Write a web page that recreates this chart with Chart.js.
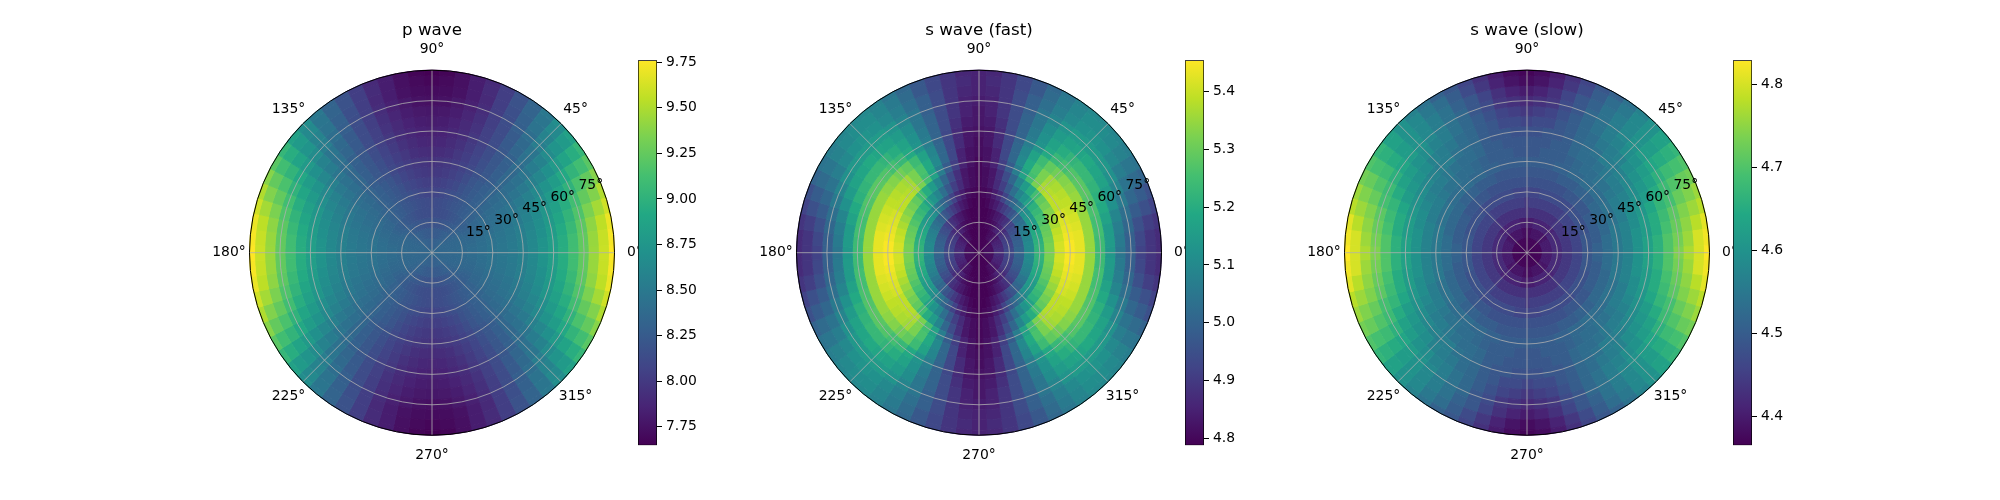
<!DOCTYPE html>
<html>
<head>
<meta charset="utf-8">
<script src="https://cdn.jsdelivr.net/npm/chart.js@4.4.1/dist/chart.umd.min.js"></script>
<style>
  body { margin: 0; background: #fff; }
  #fig { position: relative; width: 2000px; height: 500px; overflow: hidden; }
  #fig canvas { position: absolute; top: 0; }
</style>
</head>
<body>
<div id="fig"></div>
<script>
// values, one quadrant (the maps are symmetric about both axes)
// rows: incidence angle (radius) 0..90, columns: azimuth 0..90
const incidence = [0, 5, 10, 15, 20, 25, 30, 35, 40, 45, 50, 55, 60, 65, 70, 75, 80, 85, 90];
const azimuth = [0, 5, 10, 15, 20, 25, 30, 35, 40, 45, 50, 55, 60, 65, 70, 75, 80, 85, 90];

const pWave = [
    [8.35, 8.35, 8.35, 8.35, 8.35, 8.35, 8.35, 8.35, 8.35, 8.35, 8.35, 8.35, 8.35, 8.35, 8.35, 8.35, 8.35, 8.35, 8.35],
    [8.35, 8.35, 8.35, 8.35, 8.35, 8.35, 8.35, 8.34, 8.34, 8.33, 8.32, 8.32, 8.31, 8.31, 8.30, 8.30, 8.29, 8.29, 8.29],
    [8.36, 8.36, 8.36, 8.35, 8.35, 8.35, 8.34, 8.33, 8.32, 8.31, 8.30, 8.29, 8.28, 8.27, 8.26, 8.25, 8.25, 8.24, 8.24],
    [8.37, 8.37, 8.37, 8.36, 8.36, 8.35, 8.34, 8.32, 8.30, 8.28, 8.27, 8.25, 8.23, 8.22, 8.20, 8.19, 8.19, 8.18, 8.18],
    [8.39, 8.39, 8.38, 8.37, 8.36, 8.35, 8.32, 8.30, 8.28, 8.26, 8.24, 8.22, 8.20, 8.18, 8.16, 8.15, 8.14, 8.14, 8.13],
    [8.42, 8.42, 8.41, 8.40, 8.38, 8.37, 8.35, 8.34, 8.31, 8.29, 8.27, 8.25, 8.22, 8.20, 8.18, 8.16, 8.14, 8.13, 8.12],
    [8.45, 8.45, 8.44, 8.43, 8.41, 8.39, 8.38, 8.36, 8.32, 8.30, 8.28, 8.25, 8.22, 8.19, 8.16, 8.13, 8.10, 8.08, 8.07],
    [8.48, 8.48, 8.47, 8.46, 8.44, 8.42, 8.40, 8.38, 8.35, 8.31, 8.28, 8.25, 8.21, 8.17, 8.12, 8.09, 8.06, 8.04, 8.03],
    [8.51, 8.51, 8.50, 8.49, 8.47, 8.45, 8.43, 8.40, 8.37, 8.32, 8.28, 8.24, 8.20, 8.14, 8.09, 8.05, 8.02, 8.00, 7.99],
    [8.56, 8.56, 8.55, 8.54, 8.51, 8.49, 8.46, 8.42, 8.38, 8.32, 8.27, 8.22, 8.17, 8.11, 8.06, 8.02, 7.99, 7.97, 7.95],
    [8.64, 8.63, 8.62, 8.60, 8.58, 8.55, 8.51, 8.46, 8.41, 8.35, 8.28, 8.22, 8.16, 8.09, 8.03, 7.99, 7.94, 7.92, 7.91],
    [8.73, 8.72, 8.70, 8.68, 8.65, 8.61, 8.57, 8.50, 8.43, 8.36, 8.28, 8.22, 8.14, 8.07, 8.01, 7.95, 7.91, 7.88, 7.87],
    [8.83, 8.82, 8.81, 8.78, 8.75, 8.69, 8.64, 8.56, 8.47, 8.39, 8.30, 8.22, 8.13, 8.05, 7.99, 7.92, 7.88, 7.85, 7.84],
    [8.96, 8.95, 8.93, 8.89, 8.84, 8.79, 8.72, 8.62, 8.53, 8.43, 8.34, 8.24, 8.13, 8.05, 7.96, 7.90, 7.85, 7.82, 7.81],
    [9.11, 9.10, 9.06, 9.02, 8.96, 8.89, 8.81, 8.70, 8.58, 8.47, 8.37, 8.25, 8.13, 8.04, 7.94, 7.87, 7.82, 7.79, 7.78],
    [9.25, 9.24, 9.22, 9.17, 9.11, 9.01, 8.92, 8.79, 8.66, 8.54, 8.41, 8.28, 8.14, 8.03, 7.92, 7.84, 7.79, 7.75, 7.74],
    [9.44, 9.43, 9.40, 9.34, 9.25, 9.15, 9.02, 8.87, 8.73, 8.59, 8.45, 8.30, 8.16, 8.03, 7.90, 7.82, 7.75, 7.72, 7.71],
    [9.59, 9.58, 9.55, 9.47, 9.36, 9.25, 9.11, 8.96, 8.79, 8.64, 8.47, 8.32, 8.18, 8.03, 7.91, 7.82, 7.74, 7.70, 7.68],
    [9.76, 9.74, 9.70, 9.61, 9.51, 9.38, 9.21, 9.04, 8.85, 8.68, 8.49, 8.32, 8.18, 8.03, 7.90, 7.82, 7.73, 7.67, 7.65]
];

const sFast = [
    [4.79, 4.79, 4.79, 4.79, 4.79, 4.79, 4.79, 4.79, 4.79, 4.79, 4.79, 4.79, 4.79, 4.79, 4.79, 4.79, 4.79, 4.79, 4.79],
    [4.81, 4.81, 4.81, 4.81, 4.81, 4.81, 4.81, 4.80, 4.80, 4.80, 4.80, 4.79, 4.79, 4.79, 4.79, 4.79, 4.79, 4.79, 4.79],
    [4.87, 4.87, 4.87, 4.86, 4.86, 4.85, 4.85, 4.84, 4.83, 4.83, 4.82, 4.81, 4.81, 4.80, 4.79, 4.79, 4.79, 4.79, 4.79],
    [4.93, 4.93, 4.92, 4.92, 4.91, 4.91, 4.90, 4.89, 4.87, 4.86, 4.85, 4.84, 4.82, 4.81, 4.80, 4.80, 4.79, 4.79, 4.79],
    [5.00, 5.00, 4.99, 4.99, 4.98, 4.97, 4.95, 4.94, 4.92, 4.90, 4.88, 4.86, 4.84, 4.83, 4.81, 4.80, 4.79, 4.79, 4.79],
    [5.11, 5.10, 5.10, 5.09, 5.08, 5.07, 5.05, 5.03, 5.01, 4.99, 4.96, 4.93, 4.90, 4.87, 4.84, 4.82, 4.80, 4.79, 4.79],
    [5.22, 5.22, 5.21, 5.20, 5.19, 5.17, 5.15, 5.14, 5.12, 5.09, 5.05, 5.01, 4.97, 4.92, 4.87, 4.84, 4.81, 4.80, 4.79],
    [5.32, 5.32, 5.31, 5.30, 5.29, 5.27, 5.25, 5.23, 5.21, 5.17, 5.13, 5.09, 5.03, 4.97, 4.91, 4.87, 4.83, 4.81, 4.80],
    [5.41, 5.41, 5.40, 5.39, 5.37, 5.35, 5.33, 5.31, 5.29, 5.25, 5.20, 5.15, 5.09, 5.01, 4.94, 4.88, 4.83, 4.81, 4.80],
    [5.45, 5.45, 5.44, 5.43, 5.42, 5.41, 5.39, 5.39, 5.38, 5.37, 5.32, 5.25, 5.17, 5.07, 4.98, 4.91, 4.85, 4.82, 4.80],
    [5.43, 5.43, 5.43, 5.42, 5.41, 5.40, 5.39, 5.38, 5.37, 5.36, 5.32, 5.26, 5.19, 5.10, 5.01, 4.93, 4.85, 4.82, 4.81],
    [5.35, 5.35, 5.35, 5.35, 5.35, 5.35, 5.35, 5.34, 5.33, 5.31, 5.29, 5.24, 5.17, 5.09, 5.01, 4.93, 4.87, 4.83, 4.81],
    [5.24, 5.24, 5.25, 5.25, 5.26, 5.27, 5.28, 5.28, 5.27, 5.25, 5.23, 5.19, 5.13, 5.07, 5.00, 4.93, 4.87, 4.83, 4.82],
    [5.14, 5.15, 5.15, 5.17, 5.19, 5.21, 5.22, 5.23, 5.23, 5.22, 5.20, 5.17, 5.12, 5.06, 5.00, 4.94, 4.88, 4.84, 4.83],
    [5.05, 5.06, 5.07, 5.09, 5.12, 5.15, 5.17, 5.18, 5.19, 5.18, 5.17, 5.15, 5.11, 5.05, 5.00, 4.94, 4.89, 4.85, 4.83],
    [4.99, 4.99, 5.01, 5.03, 5.06, 5.09, 5.12, 5.14, 5.15, 5.15, 5.15, 5.13, 5.09, 5.05, 4.99, 4.94, 4.89, 4.85, 4.84],
    [4.92, 4.93, 4.95, 4.98, 5.01, 5.04, 5.07, 5.10, 5.12, 5.13, 5.12, 5.10, 5.07, 5.03, 4.99, 4.94, 4.89, 4.86, 4.85],
    [4.89, 4.89, 4.91, 4.95, 4.98, 5.02, 5.05, 5.08, 5.10, 5.11, 5.11, 5.09, 5.06, 5.02, 4.97, 4.93, 4.89, 4.87, 4.85],
    [4.87, 4.87, 4.89, 4.92, 4.95, 5.00, 5.04, 5.07, 5.09, 5.10, 5.10, 5.08, 5.05, 5.01, 4.97, 4.93, 4.89, 4.86, 4.85]
];

const sSlow = [
    [4.37, 4.37, 4.37, 4.37, 4.37, 4.37, 4.37, 4.37, 4.37, 4.37, 4.37, 4.37, 4.37, 4.37, 4.37, 4.37, 4.37, 4.37, 4.37],
    [4.37, 4.37, 4.37, 4.37, 4.37, 4.37, 4.37, 4.37, 4.37, 4.37, 4.37, 4.37, 4.37, 4.37, 4.37, 4.37, 4.37, 4.37, 4.37],
    [4.40, 4.40, 4.40, 4.40, 4.40, 4.40, 4.40, 4.39, 4.39, 4.39, 4.39, 4.39, 4.39, 4.39, 4.39, 4.39, 4.38, 4.38, 4.38],
    [4.42, 4.42, 4.42, 4.42, 4.42, 4.42, 4.42, 4.42, 4.41, 4.41, 4.41, 4.41, 4.41, 4.41, 4.41, 4.41, 4.40, 4.40, 4.40],
    [4.44, 4.44, 4.44, 4.44, 4.44, 4.44, 4.44, 4.44, 4.44, 4.44, 4.43, 4.43, 4.43, 4.43, 4.43, 4.43, 4.43, 4.43, 4.43],
    [4.46, 4.46, 4.46, 4.46, 4.46, 4.46, 4.46, 4.46, 4.46, 4.46, 4.45, 4.45, 4.45, 4.45, 4.45, 4.45, 4.45, 4.45, 4.44],
    [4.49, 4.49, 4.49, 4.49, 4.48, 4.48, 4.48, 4.48, 4.48, 4.47, 4.47, 4.47, 4.47, 4.47, 4.47, 4.47, 4.46, 4.46, 4.46],
    [4.51, 4.51, 4.50, 4.50, 4.50, 4.50, 4.50, 4.49, 4.49, 4.49, 4.49, 4.49, 4.48, 4.48, 4.48, 4.48, 4.48, 4.48, 4.48],
    [4.53, 4.53, 4.53, 4.52, 4.52, 4.52, 4.52, 4.52, 4.51, 4.51, 4.51, 4.50, 4.50, 4.50, 4.49, 4.49, 4.49, 4.49, 4.49],
    [4.55, 4.55, 4.55, 4.55, 4.54, 4.54, 4.54, 4.53, 4.53, 4.53, 4.53, 4.52, 4.52, 4.51, 4.51, 4.50, 4.50, 4.50, 4.50],
    [4.57, 4.57, 4.57, 4.57, 4.56, 4.56, 4.56, 4.55, 4.54, 4.54, 4.53, 4.53, 4.52, 4.51, 4.50, 4.50, 4.50, 4.49, 4.49],
    [4.60, 4.60, 4.60, 4.59, 4.59, 4.58, 4.57, 4.56, 4.56, 4.55, 4.54, 4.53, 4.53, 4.52, 4.50, 4.50, 4.49, 4.49, 4.49],
    [4.63, 4.63, 4.62, 4.62, 4.61, 4.60, 4.59, 4.58, 4.57, 4.56, 4.56, 4.54, 4.53, 4.52, 4.50, 4.49, 4.49, 4.48, 4.48],
    [4.66, 4.66, 4.65, 4.65, 4.64, 4.62, 4.61, 4.60, 4.59, 4.57, 4.56, 4.55, 4.53, 4.52, 4.50, 4.49, 4.47, 4.47, 4.46],
    [4.70, 4.70, 4.69, 4.68, 4.67, 4.65, 4.63, 4.62, 4.60, 4.59, 4.57, 4.56, 4.54, 4.52, 4.50, 4.48, 4.46, 4.45, 4.44],
    [4.74, 4.73, 4.72, 4.71, 4.69, 4.68, 4.66, 4.64, 4.62, 4.60, 4.58, 4.56, 4.54, 4.52, 4.49, 4.47, 4.44, 4.43, 4.42],
    [4.77, 4.76, 4.75, 4.74, 4.72, 4.70, 4.68, 4.65, 4.62, 4.60, 4.58, 4.56, 4.54, 4.51, 4.49, 4.46, 4.43, 4.41, 4.40],
    [4.80, 4.80, 4.78, 4.76, 4.74, 4.72, 4.69, 4.66, 4.63, 4.60, 4.58, 4.55, 4.53, 4.50, 4.47, 4.44, 4.41, 4.39, 4.38],
    [4.83, 4.82, 4.81, 4.78, 4.76, 4.73, 4.70, 4.67, 4.63, 4.60, 4.57, 4.54, 4.51, 4.49, 4.46, 4.43, 4.40, 4.38, 4.37]
];

const titles = ['p wave', 's wave (fast)', 's wave (slow)'];
const grids = [pWave, sFast, sSlow];
const colorRanges = [[7.648, 9.761], [4.788, 5.454], [4.365, 4.829]];
const pTicks = [7.75, 8.00, 8.25, 8.50, 8.75, 9.00, 9.25, 9.50, 9.75];
const sFastTicks = [4.8, 4.9, 5.0, 5.1, 5.2, 5.3, 5.4];
const sSlowTicks = [4.4, 4.5, 4.6, 4.7, 4.8];
const tickSets = [pTicks, sFastTicks, sSlowTicks];
const tickDecimals = [2, 1, 1];
const radialTicks = [15, 30, 45, 60, 75];
const angleTicks = [0, 45, 90, 135, 180, 225, 270, 315];

// layout (px)
const centersX = [432.3, 979.3, 1526.7];
const centerY = 252.7;
const radius = 182.5;
const cbarOffset = 206;
const cbarWidth = 19;
const cbarTop = 60.3, cbarBottom = 445.3;
const step = 5; // degrees between samples

const viridisStops = ['#440154', '#482475', '#414487', '#355f8d', '#2a788e', '#21918c',
                      '#22a884', '#44bf70', '#7ad151', '#bddf26', '#fde725'];

function hexToRgb(h) {
    return [parseInt(h.slice(1, 3), 16), parseInt(h.slice(3, 5), 16), parseInt(h.slice(5, 7), 16)];
}
const viridisRgb = viridisStops.map(hexToRgb);

function viridis(t) {
    t = Math.min(1, Math.max(0, t));
    const pos = t * (viridisRgb.length - 1);
    const i = Math.min(Math.floor(pos), viridisRgb.length - 2);
    const f = pos - i;
    const a = viridisRgb[i], b = viridisRgb[i + 1];
    const c = a.map((v, k) => Math.round(v + (b[k] - v) * f));
    return `rgb(${c[0]},${c[1]},${c[2]})`;
}

// map any azimuth onto the stored quadrant
function foldAzimuth(theta) {
    let t = ((theta % 360) + 360) % 360;
    if (t > 180) t = 360 - t;
    if (t > 90) t = 180 - t;
    return azimuth.indexOf(t);
}

Chart.defaults.font.family = '"DejaVu Sans", sans-serif';
Chart.defaults.color = '#000';

const fig = document.getElementById('fig');

function makeCanvas(left, width) {
    const c = document.createElement('canvas');
    c.width = width;
    c.height = 500;
    c.style.left = left + 'px';
    c.style.width = width + 'px';
    c.style.height = '500px';
    fig.appendChild(c);
    return c;
}

const polarGrid = {
    id: 'polarGrid',
    afterDatasetsDraw(chart, args, opts) {
        const arc = chart.getDatasetMeta(0).data[0];
        const cx = arc.x, cy = arc.y, R = arc.outerRadius;
        const ctx = chart.ctx;
        ctx.save();
        ctx.strokeStyle = '#b0b0b0';
        ctx.lineWidth = 0.8;
        radialTicks.forEach(r => {
            ctx.beginPath();
            ctx.arc(cx, cy, R * r / 90, 0, 2 * Math.PI);
            ctx.stroke();
        });
        angleTicks.forEach(t => {
            const a = -t * Math.PI / 180;
            ctx.beginPath();
            ctx.moveTo(cx, cy);
            ctx.lineTo(cx + R * Math.cos(a), cy + R * Math.sin(a));
            ctx.stroke();
        });
        ctx.strokeStyle = '#000';
        ctx.lineWidth = 1;
        ctx.beginPath();
        ctx.arc(cx, cy, R, 0, 2 * Math.PI);
        ctx.stroke();

        ctx.fillStyle = '#000';
        ctx.font = '13.9px "DejaVu Sans"';
        ctx.textAlign = 'center';
        ctx.textBaseline = 'middle';
        angleTicks.forEach(t => {
            const a = -t * Math.PI / 180;
            ctx.fillText(t + '°', cx + (R + 20.5) * Math.cos(a), cy + (R + 20.5) * Math.sin(a));
        });
        ctx.textAlign = 'left';
        ctx.textBaseline = 'alphabetic';
        const la = -22.5 * Math.PI / 180;
        radialTicks.forEach(r => {
            const rr = R * r / 90;
            ctx.fillText(r + '°', cx + rr * Math.cos(la) + 6, cy + rr * Math.sin(la) - 5.5);
        });
        ctx.font = '16.7px "DejaVu Sans"';
        ctx.textAlign = 'center';
        ctx.fillText(opts.title, cx, 34.5);
        ctx.restore();
    }
};

grids.forEach((grid, p) => {
    const [vmin, vmax] = colorRanges[p];
    const cx = centersX[p];

    // polar heatmap: one doughnut ring per incidence angle, one slice per azimuth
    const nSeg = 360 / step;
    const datasets = [];
    for (let k = incidence.length - 1; k >= 0; k--) {
        const colors = [];
        for (let i = 0; i < nSeg; i++) {
            const theta = 360 - step * i;
            const v = grid[k][foldAzimuth(theta)];
            colors.push(viridis((v - vmin) / (vmax - vmin)));
        }
        const ringWidth = (k === 0 || k === incidence.length - 1) ? step / 2 : step;
        datasets.push({
            data: new Array(nSeg).fill(1),
            backgroundColor: colors,
            borderColor: colors,
            borderWidth: 1,
            weight: ringWidth
        });
    }

    const polarCanvas = makeCanvas(cx - 240, 480);
    new Chart(polarCanvas, {
        type: 'doughnut',
        data: { labels: new Array(nSeg).fill(''), datasets: datasets },
        plugins: [polarGrid],
        options: {
            responsive: false,
            animation: false,
            rotation: 90 - step / 2,
            cutout: 0,
            layout: {
                padding: {
                    left: 240 - radius - 0.5,
                    right: 240 - radius - 0.5,
                    top: centerY - radius - 0.5,
                    bottom: 500 - centerY - radius - 0.5
                }
            },
            plugins: {
                legend: { display: false },
                tooltip: { enabled: false },
                polarGrid: { title: titles[p] }
            }
        }
    });

    // colorbar
    const cbLeft = cx + cbarOffset;
    const canvasLeft = cbLeft - 18;
    const cbCanvas = makeCanvas(canvasLeft, 100);
    const ticks = tickSets[p];
    const dec = tickDecimals[p];
    new Chart(cbCanvas, {
        type: 'bar',
        data: {
            labels: [''],
            datasets: [{
                data: [[vmin, vmax]],
                backgroundColor: (c) => {
                    const area = c.chart.chartArea;
                    if (!area) return null;
                    const g = c.chart.ctx.createLinearGradient(0, area.bottom, 0, area.top);
                    viridisStops.forEach((col, i) => g.addColorStop(i / (viridisStops.length - 1), col));
                    return g;
                },
                borderColor: '#000',
                borderWidth: 1,
                borderSkipped: false,
                barPercentage: 1,
                categoryPercentage: 1
            }]
        },
        options: {
            responsive: false,
            animation: false,
            layout: {
                padding: {
                    left: 18,
                    right: 100 - 18 - cbarWidth - 50,
                    top: cbarTop,
                    bottom: 500 - cbarBottom
                }
            },
            plugins: { legend: { display: false }, tooltip: { enabled: false } },
            scales: {
                x: { display: false },
                y: {
                    position: 'right',
                    min: vmin,
                    max: vmax,
                    afterBuildTicks: (s) => { s.ticks = ticks.map(v => ({ value: v })); },
                    afterFit: (s) => { s.width = 50; },
                    ticks: {
                        callback: (v) => Number(v).toFixed(dec),
                        font: { size: 13.9 },
                        color: '#000',
                        padding: 4
                    },
                    grid: { drawOnChartArea: false, tickLength: 5, color: '#000', lineWidth: 1 },
                    border: { display: false }
                }
            }
        }
    });
});
</script>
</body>
</html>
